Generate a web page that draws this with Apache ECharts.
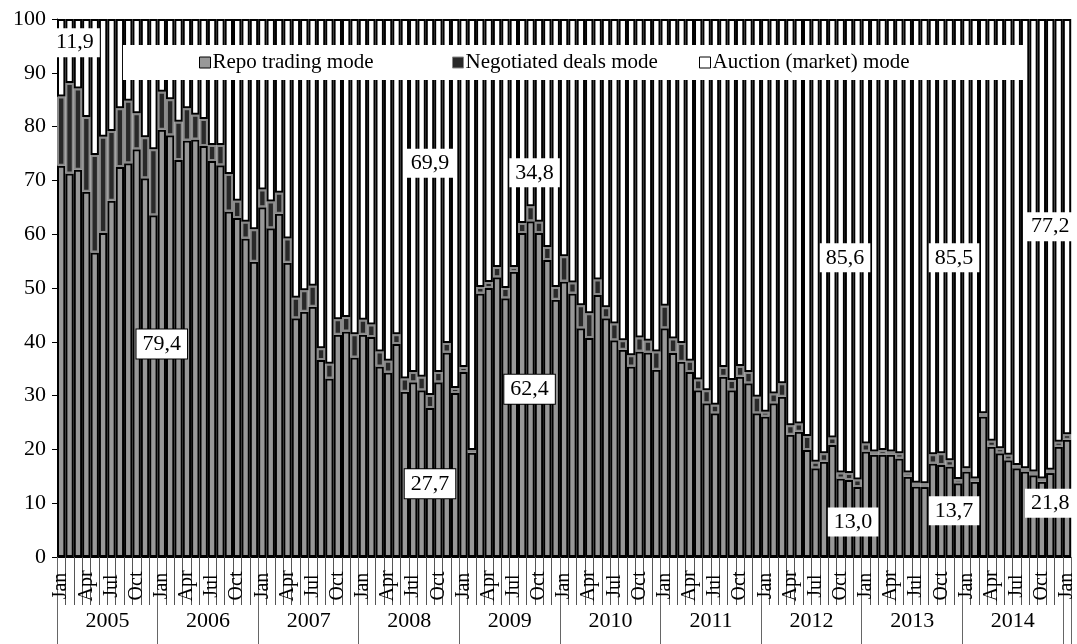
<!DOCTYPE html>
<html>
<head>
<meta charset="utf-8">
<script src="https://cdn.jsdelivr.net/npm/echarts@6/dist/echarts.min.js"></script>
<style>
  html, body { margin: 0; padding: 0; background: #fff; }
  #chart { width: 1077px; height: 644px; }
</style>
</head>
<body>
<div id="chart"></div>
<script>
// ---- Data ----
const monthNames = ['Jan','Feb','Mar','Apr','May','Jun','Jul','Aug','Sep','Oct','Nov','Dec'];
const years = ['2005','2006','2007','2008','2009','2010','2011','2012','2013','2014'];
const seriesNames = ['Repo trading mode', 'Negotiated deals mode', 'Auction (market) mode'];

// Jan 2005 ... Jan 2015 (121 months)
const categories = [];
for (let y = 2005; y <= 2015; y++) {
  for (let m = 0; m < 12; m++) {
    if (y === 2015 && m > 0) break;
    categories.push(monthNames[m] + ' ' + y);
  }
}

// Share of repo trading mode, %
const repo = [
  72.7, 71.3, 72.0, 67.9, 56.6, 60.2, 66.2, 72.5, 73.2, 75.8, 70.4, 63.5,
  79.4, 78.4, 73.8, 77.4, 77.6, 76.4, 73.6, 72.8, 64.2, 63.0, 59.2, 54.9,
  65.0, 61.1, 63.8, 54.7, 44.4, 45.6, 46.5, 36.6, 33.2, 41.3, 41.9, 37.1,
  41.3, 40.9, 35.4, 34.3, 39.6, 30.7, 32.5, 31.0, 27.7, 32.5, 38.0, 30.5,
  34.4, 19.4, 49.0, 50.0, 52.0, 48.1, 53.0, 60.2, 62.4, 60.2, 55.2, 47.8,
  51.2, 49.0, 42.5, 40.7, 48.7, 44.4, 40.3, 38.5, 35.4, 38.2, 38.0, 34.8,
  42.5, 37.9, 36.3, 34.4, 31.0, 28.6, 26.7, 33.5, 31.0, 33.5, 32.3, 26.7,
  26.1, 28.6, 29.8, 22.7, 23.3, 19.9, 16.5, 17.7, 20.8, 14.6, 14.3, 13.0,
  19.6, 19.0, 19.0, 19.0, 18.3, 14.9, 13.1, 13.0, 17.4, 17.1, 16.8, 13.7,
  15.9, 14.0, 26.1, 20.5, 19.3, 18.0, 16.5, 15.9, 15.2, 14.0, 15.6, 20.5,
  21.8
];

// Share of negotiated deals mode, %
const negotiated = [
  12.9, 16.8, 15.1, 13.9, 18.1, 17.9, 13.0, 10.9, 11.6, 6.7, 7.6, 12.3,
  7.1, 6.7, 7.1, 6.0, 4.6, 5.0, 3.0, 3.8, 7.0, 3.2, 3.1, 6.0,
  3.3, 5.0, 3.9, 4.5, 3.8, 4.0, 3.9, 2.2, 2.7, 2.9, 2.7, 4.3,
  2.8, 2.3, 2.8, 2.2, 1.8, 2.5, 1.9, 2.5, 2.4, 1.9, 1.8, 0.9,
  0.9, 0.5, 1.2, 1.1, 1.9, 1.9, 0.9, 1.9, 2.8, 2.1, 2.4, 2.4,
  4.7, 2.0, 4.3, 4.6, 2.9, 2.0, 3.1, 1.8, 2.1, 2.6, 2.2, 3.4,
  4.2, 2.7, 3.5, 2.1, 2.0, 2.4, 1.6, 1.8, 1.9, 2.0, 2.1, 3.1,
  0.9, 1.8, 2.5, 1.8, 1.5, 2.6, 1.2, 1.6, 1.4, 1.1, 1.3, 1.4,
  1.5, 0.6, 0.9, 0.6, 1.0, 0.8, 0.7, 0.7, 1.7, 2.2, 1.2, 0.8,
  0.6, 0.6, 0.6, 1.1, 0.9, 1.0, 0.6, 0.6, 0.7, 0.6, 0.6, 0.9,
  1.0
];

// Share of auction (market) mode, %
const auction = [
  14.4, 11.9, 12.9, 18.2, 25.3, 21.9, 20.8, 16.6, 15.2, 17.5, 22.0, 24.2,
  13.5, 14.9, 19.1, 16.6, 17.8, 18.6, 23.4, 23.4, 28.8, 33.8, 37.7, 39.1,
  31.7, 33.9, 32.3, 40.8, 51.8, 50.4, 49.6, 61.2, 64.1, 55.8, 55.4, 58.6,
  55.9, 56.8, 61.8, 63.5, 58.6, 66.8, 65.6, 66.5, 69.9, 65.6, 60.2, 68.6,
  64.7, 80.1, 49.8, 48.9, 46.1, 50.0, 46.1, 37.9, 34.8, 37.7, 42.4, 49.8,
  44.1, 49.0, 53.2, 54.7, 48.4, 53.6, 56.6, 59.7, 62.5, 59.2, 59.8, 61.8,
  53.3, 59.4, 60.2, 63.5, 67.0, 69.0, 71.7, 64.7, 67.1, 64.5, 65.6, 70.2,
  73.0, 69.6, 67.7, 75.5, 75.2, 77.5, 82.3, 80.7, 77.8, 84.3, 84.4, 85.6,
  78.9, 80.4, 80.1, 80.4, 80.7, 84.3, 86.2, 86.3, 80.9, 80.7, 82.0, 85.5,
  83.5, 85.4, 73.3, 78.4, 79.8, 81.0, 82.9, 83.5, 84.1, 85.4, 83.8, 78.6,
  77.2
];

// Annotations: text, anchor month index, anchor value (%)
const annoText  = ['11,9', '79,4', '27,7', '69,9', '34,8', '62,4', '85,6', '13,0', '85,5', '13,7', '77,2', '21,8'];
const annoMonth = [2, 12, 44, 44, 56, 56, 94, 94, 107, 107, 118, 118];
const annoValue = [95.6, 39.6, 13.6, 73.2, 71.4, 31.2, 55.6, 6.5, 55.6, 8.6, 61.4, 10.0];
const annoBoxed = [false, true, true, false, false, true, false, false, false, false, false, false];
const annoDx    = [-3, 0, 0, 0, 4, -1, -4, 4, -4, -4, 0, 0];

const yTicks = { min: 0, max: 100, interval: 10 };

// ---- Chart ----
const FONT = 'Liberation Serif';
const chart = echarts.init(document.getElementById('chart'), null, { renderer: 'canvas' });

const markData = annoText.map((t, i) => ({
  name: t,
  coord: [annoMonth[i], annoValue[i]],
  label: {
    offset: [annoDx[i], 0],
    borderColor: annoBoxed[i] ? '#000' : 'transparent',
    borderWidth: annoBoxed[i] ? 1 : 0
  }
}));

const legendCommon = {
  top: 45,
  orient: 'horizontal',
  icon: 'rect',
  itemWidth: 11,
  itemHeight: 11,
  itemGap: 0,
  z: 10,
  selectedMode: false,
  itemStyle: { borderWidth: 1 },
  textStyle: { fontFamily: FONT, fontSize: 21, color: '#000', padding: [0, 0, 0, -3] }
};

const option = {
  animation: false,
  backgroundColor: '#fff',
  textStyle: { fontFamily: FONT },
  grid: { left: 57, right: 2, top: 19, bottom: 87, containLabel: false },
  legend: [
    Object.assign({}, legendCommon, {
      data: [seriesNames[0]], left: 123, backgroundColor: '#fff',
      padding: [7, 650, 7, 76]
    }),
    Object.assign({}, legendCommon, {
      data: [seriesNames[1]], left: 452, padding: [7, 0, 7, 0]
    }),
    Object.assign({}, legendCommon, {
      data: [seriesNames[2]], left: 699, padding: [7, 0, 7, 0]
    })
  ],
  xAxis: [
    {
      type: 'category',
      data: categories,
      boundaryGap: true,
      position: 'bottom',
      axisLine: { show: true, lineStyle: { color: '#000', width: 1 } },
      axisTick: { show: true, interval: 0, length: 48, lineStyle: { color: '#555', width: 1 } },
      axisLabel: {
        interval: function (idx) { return idx % 3 === 0; },
        formatter: function (v) { return v.split(' ')[0]; },
        rotate: 90,
        align: 'center',
        verticalAlign: 'middle',
        margin: 29,
        fontFamily: FONT,
        fontSize: 20,
        color: '#000'
      }
    },
    {
      type: 'category',
      data: categories,
      boundaryGap: true,
      position: 'bottom',
      offset: 0,
      axisLine: { show: false },
      axisTick: {
        show: true,
        interval: function (idx) { return idx % 12 === 0; },
        length: 87,
        lineStyle: { color: '#666', width: 1 }
      },
      axisLabel: {
        interval: function (idx) { return idx % 12 === 6; },
        formatter: function (v) { return v.split(' ')[1]; },
        margin: 53,
        padding: [0, 8, 0, 0],
        fontFamily: FONT,
        fontSize: 22,
        color: '#000'
      }
    }
  ],
  yAxis: {
    type: 'value',
    min: yTicks.min,
    max: yTicks.max,
    interval: yTicks.interval,
    axisLine: { show: true, lineStyle: { color: '#000', width: 1 } },
    axisTick: { show: true, length: 5, inside: false, lineStyle: { color: '#000' } },
    splitLine: { show: false },
    axisLabel: { fontFamily: FONT, fontSize: 22, color: '#000', margin: 11 }
  },
  series: [
    {
      name: seriesNames[0],
      type: 'bar',
      stack: 'total',
      data: repo,
      barCategoryGap: '0%',
      itemStyle: { color: '#989898', borderColor: '#000', borderWidth: 2 }
    },
    {
      name: seriesNames[1],
      type: 'bar',
      stack: 'total',
      data: negotiated,
      barCategoryGap: '0%',
      itemStyle: { color: '#292929', borderColor: '#8a8a8a', borderWidth: 2 }
    },
    {
      name: seriesNames[2],
      type: 'bar',
      stack: 'total',
      data: auction,
      barCategoryGap: '0%',
      itemStyle: { color: '#ffffff', borderColor: '#000', borderWidth: 2 },
      markPoint: {
        z: 20,
        symbol: 'circle',
        symbolSize: 0,
        itemStyle: { color: 'transparent' },
        label: {
          show: true,
          position: 'inside',
          formatter: '{b}',
          fontFamily: FONT,
          fontSize: 22,
          color: '#000',
          backgroundColor: '#fff',
          padding: [4, 6, 3, 6]
        },
        data: markData
      }
    }
  ]
};

chart.setOption(option);
</script>
</body>
</html>
